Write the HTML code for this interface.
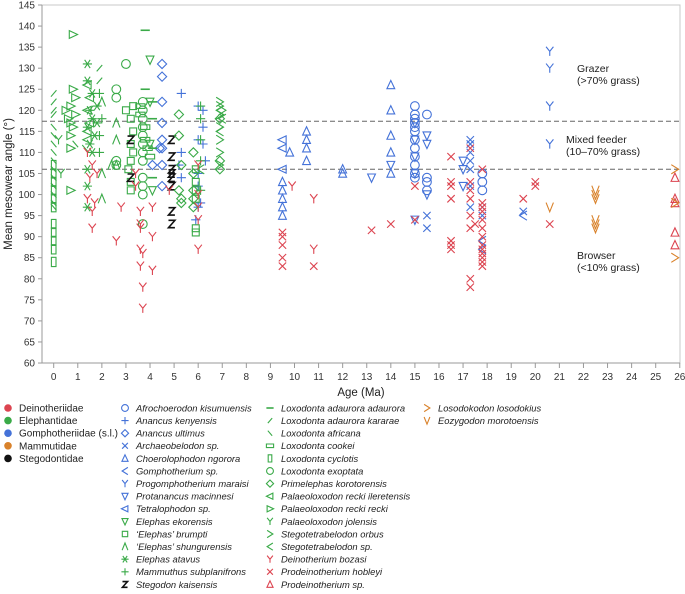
<!DOCTYPE html>
<html><head><meta charset="utf-8"><style>
html,body{margin:0;padding:0;background:#fff;}
svg{display:block;font-family:"Liberation Sans",sans-serif;}
</style></head><body>
<svg id="chart" width="685" height="594" viewBox="0 0 685 594"></svg>
<script>
// ---- data ----
const yTicks = [60,65,70,75,80,85,90,95,100,105,110,115,120,125,130,135,140,145];
const xTicks = [0,1,2,3,4,5,6,7,8,9,10,11,12,13,14,15,16,17,18,19,20,21,22,23,24,25,26];
const thresholds = [117.4, 106];
const families = ["Deinotheriidae","Elephantidae","Gomphotheriidae (s.l.)","Mammutidae","Stegodontidae"];
const familyColors = ["#dc4450","#3aaa48","#4472d8","#d9822b","#111"];

const afrochoerodon = [[15,121],[15,119],[15,118],[15,117],[15,116],[15,115],[15,113],[15,111],[15,109],[15,107],[15,105],[15,104],[15.5,119],[15.5,104],[15.5,103],[15.5,101],[17.8,105],[17.8,103],[17.8,101]];
const anancusKenyensis = [[5.3,124],[5.3,110],[5.2,107],[5.3,104],[6.0,121],[6.2,120],[6.2,116],[6.0,113],[6.2,112],[6.3,108],[6.0,105],[6.0,102],[6.1,98],[6.0,97],[5.9,94]];
const anancusUltimus = [[4.5,131],[4.5,128],[4.5,122],[4.5,117],[4.5,113],[4.4,111],[4.5,111],[4.5,107],[4.5,102],[4.1,107]];
const archaeobelodon = [[15.5,95],[15.5,92],[17.3,113],[17.3,112],[17.3,110],[17.3,108],[17.3,106],[17.3,102],[17.3,97],[17.8,97],[17.8,95],[19.5,96]];
const choerolophodon = [[9.5,103],[9.5,101],[9.5,99],[9.5,97],[9.5,95],[9.8,110],[10.5,115],[10.5,113],[10.5,111],[10.5,108],[12,105],[12,106],[14,126],[14,120],[14,114],[14,110],[14,105]];
const gomphotherium = [[17.8,89],[17.8,87],[19.5,95]];
const progomphotherium = [[20.6,134],[20.6,130],[20.6,121],[20.6,112]];
const protanancus = [[13.2,104],[14,107],[15,117],[15,113],[15,109],[15,105],[15,94],[15.5,114],[15.5,112],[15.5,100],[17,108],[17,106],[17,102]];
const tetralophodon = [[9.5,113],[9.5,111],[9.5,106]];
const elephasEkorensis = [[4.0,132],[4.0,122],[4.0,112],[4.1,101]];
const elephasBrumpti = [[3.0,120],[3.3,121],[3.2,118],[3.3,115],[3.2,112],[3.3,110],[3.2,108],[3.1,106],[3.2,103],[3.2,101],[5.9,106],[5.9,103],[5.9,101],[5.9,99],[5.9,92],[5.9,91]];
const elephasShungurensis = [[2.0,122],[2.6,117],[2.6,113],[2.4,107],[2.0,99],[2.0,105],[2.6,107]];
const elephasAtavus = [[1.4,131],[1.4,127],[1.6,124],[1.5,120],[1.6,118],[1.4,116],[1.7,114],[1.5,112],[1.6,110],[1.4,106],[1.4,102],[1.4,97],[1.8,121],[1.8,117]];
const mammuthus = [[1.9,124],[2.0,118],[1.9,114],[1.9,110],[6.1,121],[6.1,118],[6.1,113],[6.1,108],[6.1,101]];
const stegodon = [[3.2,113],[3.2,104],[4.9,113],[4.9,109],[4.9,106],[4.9,105],[4.9,104],[4.9,102],[4.9,96],[4.9,93]];
const loxAdauroraAdaurora = [[3.8,139],[3.8,125],[4.1,122],[4.1,118],[4.1,111],[4.1,104]];
const loxKararae = [[1.9,130],[1.9,127],[0.0,124],[0.0,122],[0.0,120],[0.0,119]];
const loxAfricana = [[0,116],[0,114],[0,112],[0,110],[0,108],[0,106],[0,104],[0,102],[0,100],[0,98],[0,97],[0.9,112],[1.3,111]];
const loxCookei = [[3.6,121],[3.6,119],[3.8,116],[3.8,113],[3.9,111],[4.0,109]];
const loxCyclotis = [[0,84],[0,87],[0,89],[0,91],[0,93],[0,97],[0,99],[0,101],[0,103],[0,105],[0,107]];
const loxExoptata = [[2.6,125],[2.6,123],[2.6,108],[2.6,107],[3.0,131],[3.7,122],[3.7,120],[3.7,118],[3.7,116],[3.7,114],[3.7,112],[3.7,110],[3.7,108],[3.7,104],[3.7,102],[3.7,100],[3.7,93]];
const primelephas = [[5.2,119],[5.2,114],[5.3,107],[5.2,101],[5.3,99],[5.3,98],[5.8,110],[5.8,105],[5.8,101],[5.8,99],[5.8,97],[6.9,108],[6.9,106],[6.9,118]];
const palaeoIleretensis = [[1.4,126],[1.5,123],[1.4,120],[1.5,117],[1.4,115],[1.4,113]];
const palaeoRecki = [[0.8,138],[0.8,125],[0.9,123],[0.7,121],[0.5,120],[0.9,119],[0.6,118],[0.7,117],[0.8,116],[0.7,114],[0.7,111],[0.7,101]];
const palaeoJolensis = [[0.3,105],[0.2,113]];
const stegoOrbus = [[6.9,122],[6.9,121],[7.0,120],[6.9,119],[6.9,116],[6.9,113],[6.9,110],[6.9,107]];
const stegoSp = [[6.9,120],[7.0,118],[6.9,115],[6.1,106]];
const deinotheriumBozasi = [[1.4,110],[1.6,107],[1.8,105],[1.5,104],[1.4,99],[1.7,98],[1.6,96],[1.6,92],[2.6,89],[2.8,97],[3.4,105],[3.4,102],[3.6,96],[3.6,92],[3.6,87],[3.6,83],[3.7,78],[3.7,73],[3.7,86],[3.6,93],[4.1,97],[4.1,90],[4.1,82],[4.8,101],[6.0,107],[6.0,100],[6.0,97],[6.0,94],[6.0,87],[9.9,102],[10.8,99],[10.8,87]];
const prodeinoHobleyi = [[9.5,91],[9.5,90],[9.5,88],[9.5,85],[9.5,83],[10.8,83],[13.2,91.5],[14,93],[15,102],[15,94],[16.5,109],[16.5,103],[16.5,102],[16.5,99],[16.5,89],[16.5,88],[16.5,87],[17.3,111],[17.3,103],[17.3,101],[17.3,99],[17.3,95],[17.3,92],[17.3,80],[17.3,78],[17.5,93],[17.8,106],[17.8,98],[17.8,97],[17.8,96],[17.8,94],[17.8,92],[17.8,90],[17.8,88],[17.8,87],[17.8,86],[17.8,85],[17.8,84],[17.8,83],[19.5,99],[20,103],[20,102],[20.6,93]];
const prodeinoSp = [[25.8,104],[25.8,99],[25.8,98],[25.8,91],[25.8,88]];
const losodokodon = [[25.8,106],[25.8,98],[25.8,85]];
const eozygodon = [[20.6,97],[22.5,101],[22.5,100],[22.5,99],[22.5,94],[22.5,93],[22.5,92]];

const R="#dc4450",G="#3aaa48",B="#4472d8",O="#d9822b",K="#111";
const species = [
 ["Afrochoerodon kisumuensis","circle",B,afrochoerodon],
 ["Anancus kenyensis","plus",B,anancusKenyensis],
 ["Anancus ultimus","diamond",B,anancusUltimus],
 ["Archaeobelodon sp.","x",B,archaeobelodon],
 ["Choerolophodon ngorora","triUp",B,choerolophodon],
 ["Gomphotherium sp.","lt",B,gomphotherium],
 ["Progomphotherium maraisi","Y",B,progomphotherium],
 ["Protanancus macinnesi","triDown",B,protanancus],
 ["Tetralophodon sp.","triLeft",B,tetralophodon],
 ["Elephas ekorensis","triDown",G,elephasEkorensis],
 ["‘Elephas’ brumpti","square",G,elephasBrumpti],
 ["‘Elephas’ shungurensis","caret",G,elephasShungurensis],
 ["Elephas atavus","star",G,elephasAtavus],
 ["Mammuthus subplanifrons","plus",G,mammuthus],
 ["Stegodon kaisensis","Z",K,stegodon],
 ["Loxodonta adaurora adaurora","dash",G,loxAdauroraAdaurora],
 ["Loxodonta adaurora kararae","slash",G,loxKararae],
 ["Loxodonta africana","bslash",G,loxAfricana],
 ["Loxodonta cookei","hrect",G,loxCookei],
 ["Loxodonta cyclotis","vrect",G,loxCyclotis],
 ["Loxodonta exoptata","circle",G,loxExoptata],
 ["Primelephas korotorensis","diamond",G,primelephas],
 ["Palaeoloxodon recki ileretensis","triLeft",G,palaeoIleretensis],
 ["Palaeoloxodon recki recki","triRight",G,palaeoRecki],
 ["Palaeoloxodon jolensis","Y",G,palaeoJolensis],
 ["Stegotetrabelodon orbus","gt",G,stegoOrbus],
 ["Stegotetrabelodon sp.","lt",G,stegoSp],
 ["Deinotherium bozasi","Y",R,deinotheriumBozasi],
 ["Prodeinotherium hobleyi","x",R,prodeinoHobleyi],
 ["Prodeinotherium sp.","triUp",R,prodeinoSp],
 ["Losodokodon losodokius","gt",O,losodokodon],
 ["Eozygodon morotoensis","V",O,eozygodon]
];

// ---- scales ----
const X0=53.7, XS=24.08, Y0=5, YS=4.212;
function xs(a){return X0+a*XS;}
function ys(v){return Y0+(145-v)*YS;}

const NS="http://www.w3.org/2000/svg";
const svg=document.getElementById('chart');
function el(tag,attrs,parent){const e=document.createElementNS(NS,tag);for(const k in attrs)e.setAttribute(k,attrs[k]);(parent||svg).appendChild(e);return e;}

function marker(shape,c,x,y,s,parent){
  const g=el('g',{stroke:c,fill:'none','stroke-width':1.1},parent);
  const h=s;
  let d="";
  switch(shape){
    case 'circle': el('circle',{cx:x,cy:y,r:h*0.95},g);break;
    case 'plus': d=`M${x-h} ${y}H${x+h}M${x} ${y-h}V${y+h}`;break;
    case 'x': d=`M${x-h*0.8} ${y-h*0.8}L${x+h*0.8} ${y+h*0.8}M${x-h*0.8} ${y+h*0.8}L${x+h*0.8} ${y-h*0.8}`;break;
    case 'diamond': d=`M${x} ${y-h}L${x+h} ${y}L${x} ${y+h}L${x-h} ${y}Z`;break;
    case 'triUp': d=`M${x} ${y-h}L${x+h*0.85} ${y+h*0.8}L${x-h*0.85} ${y+h*0.8}Z`;break;
    case 'triDown': d=`M${x} ${y+h}L${x+h*0.85} ${y-h*0.8}L${x-h*0.85} ${y-h*0.8}Z`;break;
    case 'triLeft': d=`M${x-h} ${y}L${x+h*0.8} ${y-h*0.85}L${x+h*0.8} ${y+h*0.85}Z`;break;
    case 'triRight': d=`M${x+h} ${y}L${x-h*0.8} ${y-h*0.85}L${x-h*0.8} ${y+h*0.85}Z`;break;
    case 'lt': d=`M${x+h*0.8} ${y-h}L${x-h*0.8} ${y}L${x+h*0.8} ${y+h}`;break;
    case 'gt': d=`M${x-h*0.8} ${y-h}L${x+h*0.8} ${y}L${x-h*0.8} ${y+h}`;break;
    case 'V': d=`M${x-h*0.8} ${y-h}L${x} ${y+h}L${x+h*0.8} ${y-h}`;break;
    case 'caret': d=`M${x-h*0.8} ${y+h}L${x} ${y-h}L${x+h*0.8} ${y+h}`;break;
    case 'Y': d=`M${x-h*0.8} ${y-h}L${x} ${y}L${x+h*0.8} ${y-h}M${x} ${y}V${y+h}`;break;
    case 'square': d=`M${x-h*0.75} ${y-h*0.75}h${h*1.5}v${h*1.5}h${-h*1.5}Z`;break;
    case 'hrect': d=`M${x-h} ${y-h*0.5}h${h*2}v${h}h${-h*2}Z`;break;
    case 'vrect': d=`M${x-h*0.5} ${y-h}h${h}v${h*2}h${-h}Z`;break;
    case 'star': d=`M${x-h} ${y}H${x+h}M${x-h*0.6} ${y-h*0.9}L${x+h*0.6} ${y+h*0.9}M${x-h*0.6} ${y+h*0.9}L${x+h*0.6} ${y-h*0.9}`;break;
    case 'dash': d=`M${x-h} ${y}H${x+h}`;g.setAttribute('stroke-width',1.6);break;
    case 'slash': d=`M${x-h*0.6} ${y+h*0.7}L${x+h*0.6} ${y-h*0.7}`;break;
    case 'bslash': d=`M${x-h*0.6} ${y-h*0.7}L${x+h*0.6} ${y+h*0.7}`;break;
    case 'Z': d=`M${x-h*0.7} ${y-h*0.8}H${x+h*0.7}L${x-h*0.7} ${y+h*0.8}H${x+h*0.7}`;g.setAttribute('stroke-width',1.6);break;
  }
  if(d) el('path',{d:d},g);
  return g;
}

// ---- axes ----
const axes=el('g',{});


el('rect',{x:42,y:5,width:638,height:358,fill:'none',stroke:'#c8c8c8','stroke-width':1},axes);
el('line',{x1:42,y1:5,x2:42,y2:363,stroke:'#999'},axes);
el('line',{x1:42,y1:363,x2:680,y2:363,stroke:'#999'},axes);
for(const t of yTicks){
  const y=ys(t);
  el('line',{x1:38,y1:y,x2:42,y2:y,stroke:'#999'},axes);
  const tx=el('text',{x:35,y:y+3.5,'font-size':10,fill:'#333','text-anchor':'end'},axes);
  tx.textContent=t;
  
  
}
for(const t of xTicks){
  const x=xs(t);
  el('line',{x1:x,y1:363,x2:x,y2:368,stroke:'#999'},axes);
  const tx=el('text',{x:x,y:380,'font-size':10,fill:'#333','text-anchor':'middle'},axes);
  tx.textContent=t;
  
  
}
const xt=el('text',{x:361,y:396,'font-size':11.5,fill:'#222','text-anchor':'middle'});
xt.textContent='Age (Ma)';


const yt=el('text',{x:12,y:184,'font-size':11.5,fill:'#222','text-anchor':'middle',transform:'rotate(-90 12 184)'});
yt.textContent='Mean mesowear angle (°)';



for(const th of thresholds){
  const l=el('line',{x1:42,y1:ys(th),x2:680,y2:ys(th),stroke:'#666','stroke-dasharray':'5,3','stroke-width':1});
  
  
}
const zoneLabels=[["Grazer",577,72],["(>70% grass)",577,84],["Mixed feeder",566,143],["(10–70% grass)",566,155],["Browser",577,259],["(<10% grass)",577,271]];
for(const z of zoneLabels){
  const t=el('text',{x:z[1],y:z[2],'font-size':10.5,fill:'#222'});
  t.textContent=z[0];
  
  
}

// ---- points ----
for(const sp of species){
  const g=el('g',{});
  
  
  for(const p of sp[3]){
    const m=marker(sp[1],sp[2],xs(p[0]),ys(p[1]),4.6,g);
    
    
  }
}

// ---- legend ----
const leg=el('g',{});


families.forEach((f,i)=>{
  const y=408+i*12.6;
  el('circle',{cx:8,cy:y,r:3.8,fill:familyColors[i]},leg);
  const t=el('text',{x:19,y:y+3.5,'font-size':10,fill:'#222'},leg);
  t.textContent=f;
  
  
});
const cols=[[125,0,15],[270,15,30],[427,30,32]];
for(const c of cols){
  for(let i=c[1];i<c[2];i++){
    const sp=species[i];
    const y=408+(i-c[1])*12.6;
    marker(sp[1],sp[2],c[0],y,3.6,leg);
    const t=el('text',{x:c[0]+11,y:y+3.4,'font-size':9.4,'font-style':'italic',fill:'#222'},leg);
    t.textContent=sp[0];
    
    
  }
}
</script>
</body></html>
